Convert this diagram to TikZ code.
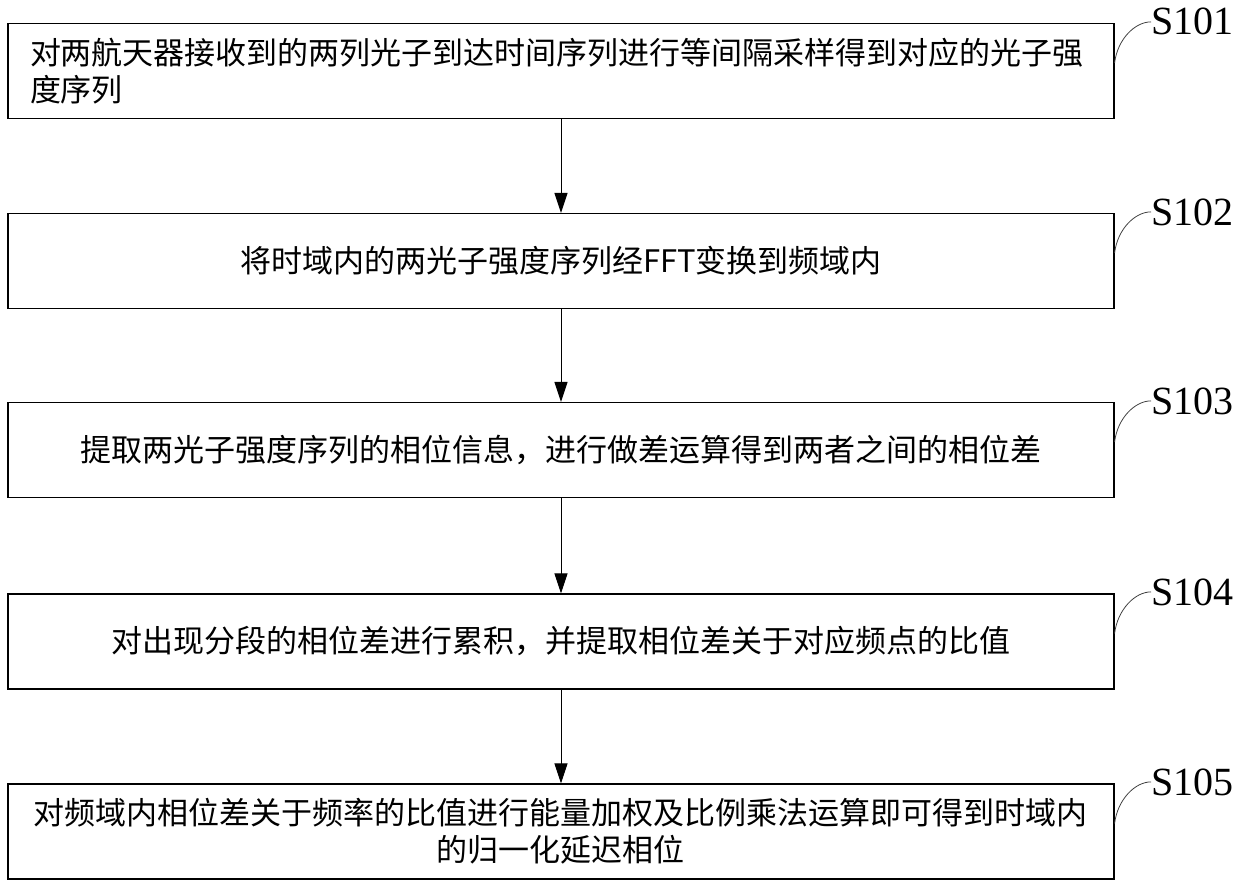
\documentclass[tikz,border=0pt]{standalone}
\usepackage{fontspec}
\setmainfont{Liberation Serif}
\newfontfamily\cjk{Noto Sans CJK SC}
\usetikzlibrary{arrows.meta}
\tikzset{
  stepbox/.style={draw=black, line width=1.1pt, minimum width=1106pt, minimum height=95pt,
    inner sep=0pt, text width=1062pt, font=\cjk\fontsize{31}{37}\selectfont},
  arr/.style={line width=1pt, -{Triangle[width=13pt,length=20pt]}},
  steplabel/.style={anchor=base west, inner sep=0pt, font=\fontsize{40}{48}\selectfont},
  leader/.style={line width=0.8pt, draw=black!75}
}
\begin{document}
\begin{tikzpicture}[x=1pt,y=-1pt]
\useasboundingbox (0,0) rectangle (1240,888);
\node[stepbox, align=left] (b1) at (561,71) {对两航天器接收到的两列光子到达时间序列进行等间隔采样得到对应的光子强\\度序列};
\node[stepbox, align=center] (b2) at (561,261) {将时域内的两光子强度序列经FFT变换到频域内};
\node[stepbox, align=center] (b3) at (561,450) {提取两光子强度序列的相位信息，进行做差运算得到两者之间的相位差};
\node[stepbox, align=center] (b4) at (561,641.5) {对出现分段的相位差进行累积，并提取相位差关于对应频点的比值};
\node[stepbox, align=center] (b5) at (561,831.5) {对频域内相位差关于频率的比值进行能量加权及比例乘法运算即可得到时域内\\的归一化延迟相位};

\node[steplabel] (s1) at (1151,35) {S101};
\node[steplabel] (s2) at (1151,225) {S102};
\node[steplabel] (s3) at (1151,414) {S103};
\node[steplabel] (s4) at (1151,605) {S104};
\node[steplabel] (s5) at (1151,795) {S105};

\foreach \i in {1,...,5}{
  \draw[leader] ([yshift=8pt]b\i.east) .. controls +(3pt,24pt) and +(-16pt,0pt) .. (s\i.west);
}

\draw[arr] (b1) -- (b2);
\draw[arr] (b2) -- (b3);
\draw[arr] (b3) -- (b4);
\draw[arr] (b4) -- (b5);
\end{tikzpicture}
\end{document}
